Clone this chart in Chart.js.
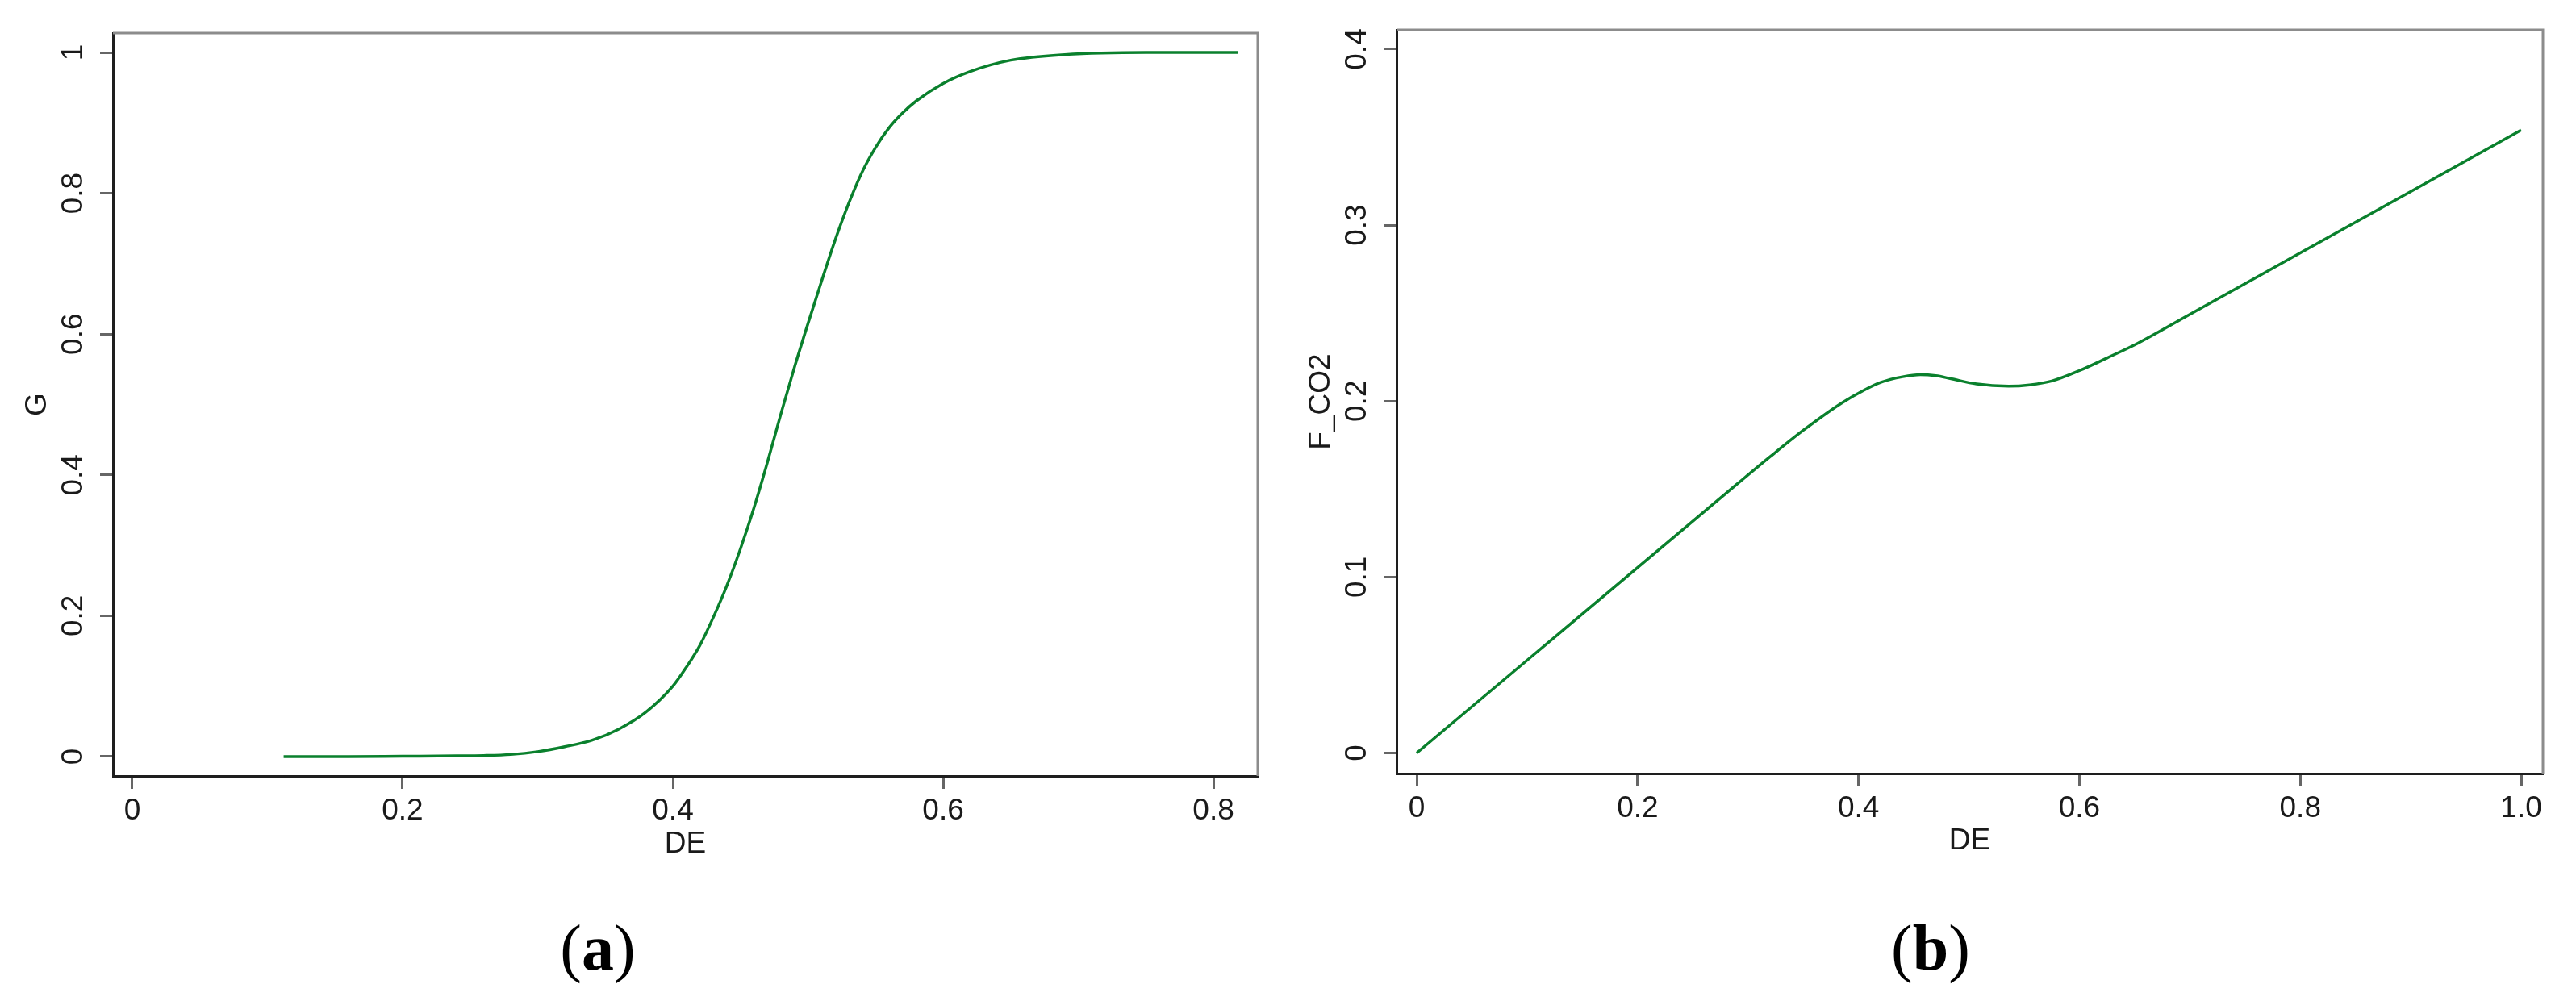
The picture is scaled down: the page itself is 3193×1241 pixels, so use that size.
<!DOCTYPE html>
<html lang="en">
<head>
    <meta charset="UTF-8">
    <title>G and F_CO2 vs DE</title>
    <script src="https://cdn.jsdelivr.net/npm/chart.js"></script>
    <style>
        body {
            margin: 0;
            background: #fff;
            width: 3193px;
            height: 1241px;
            position: relative;
            overflow: hidden;
        }
        .panel {
            position: absolute;
            top: 0;
        }
        .tag {
            position: absolute;
            top: 1135px;
            width: 300px;
            text-align: center;
            font-family: "Liberation Serif", "Times New Roman", serif;
            font-size: 80px;
            line-height: 1;
            color: #000;
        }
    </style>
</head>
<body>
    <canvas id="chartA" class="panel" style="left:0" width="1595" height="1100"></canvas>
    <canvas id="chartB" class="panel" style="left:1595px" width="1598" height="1100"></canvas>
    <div class="tag" style="left:591px">(<b>a</b>)</div>
    <div class="tag" style="left:2243px">(<b>b</b>)</div>

<script>
    // panel (a): G against DE
    const deA = [0.112, 0.16, 0.20, 0.24, 0.26, 0.28, 0.30, 0.32, 0.34, 0.36, 0.38, 0.40, 0.41, 0.42,
                 0.43, 0.44, 0.45, 0.46, 0.47, 0.48, 0.49, 0.50, 0.51, 0.52, 0.53, 0.54, 0.55,
                 0.56, 0.57, 0.58, 0.60, 0.62, 0.65, 0.69, 0.75, 0.818];
    const gA = [0, 0, 0.0005, 0.001, 0.0015, 0.003, 0.007, 0.014, 0.023, 0.039, 0.063, 0.100, 0.127, 0.158,
                0.198, 0.243, 0.295, 0.353, 0.418, 0.487, 0.553, 0.615, 0.675, 0.733, 0.785, 0.830, 0.865,
                0.893, 0.914, 0.931, 0.956, 0.973, 0.989, 0.997, 1.0, 1.0];
    const xTicksA = [0, 0.2, 0.4, 0.6, 0.8];
    const xLabelsA = ['0', '0.2', '0.4', '0.6', '0.8'];
    const yTicksA = [0, 0.2, 0.4, 0.6, 0.8, 1];
    const yLabelsA = ['0', '0.2', '0.4', '0.6', '0.8', '1'];

    // panel (b): F_CO2 against DE
    const deB = [0, 0.1, 0.2, 0.26, 0.29, 0.32, 0.35, 0.385, 0.405, 0.42, 0.44, 0.456, 0.47, 0.483,
                 0.507, 0.536, 0.555, 0.575, 0.60, 0.625, 0.653, 0.70, 0.80, 0.90, 1.0];
    const fB = [0, 0.0527, 0.1054, 0.137, 0.1528, 0.1684, 0.1834, 0.1990, 0.2062, 0.2106, 0.2138, 0.2150,
                0.2144, 0.2128, 0.2097, 0.2085, 0.2092, 0.2114, 0.2173, 0.2245, 0.2329, 0.2493,
                0.2842, 0.3191, 0.354];
    const xTicksB = [0, 0.2, 0.4, 0.6, 0.8, 1.0];
    const xLabelsB = ['0', '0.2', '0.4', '0.6', '0.8', '1.0'];
    const yTicksB = [0, 0.1, 0.2, 0.3, 0.4];
    const yLabelsB = ['0', '0.1', '0.2', '0.3', '0.4'];

    const lineColor = '#0a802d';
    const textColor = '#1a1a1a';
    const fontFamily = '"Liberation Sans", Arial, sans-serif';

    // top and right side of the box are drawn lighter, like the R plot
    const framePlugin = {
        id: 'frame',
        afterDraw(chart) {
            const { ctx, chartArea: a } = chart;
            ctx.save();
            ctx.strokeStyle = '#8c8c8c';
            ctx.lineWidth = 3;
            ctx.beginPath();
            ctx.moveTo(a.left, a.top);
            ctx.lineTo(a.right, a.top);
            ctx.lineTo(a.right, a.bottom);
            ctx.stroke();
            ctx.restore();
        }
    };

    function makePanel(id, xs, ys, opt) {
        const points = xs.map((x, i) => ({ x: x, y: ys[i] }));
        return new Chart(document.getElementById(id), {
            type: 'line',
            data: {
                datasets: [{
                    data: points,
                    borderColor: lineColor,
                    borderWidth: 3.5,
                    pointRadius: 0,
                    cubicInterpolationMode: 'monotone',
                    fill: false
                }]
            },
            options: {
                responsive: false,
                animation: false,
                layout: { padding: opt.padding },
                plugins: { legend: { display: false }, tooltip: { enabled: false } },
                scales: {
                    x: {
                        type: 'linear',
                        min: opt.xMin,
                        max: opt.xMax,
                        afterBuildTicks: s => { s.ticks = opt.xTicks.map(v => ({ value: v })); },
                        afterFit: s => { s.height = opt.xHeight; },
                        ticks: {
                            callback: (v, i) => opt.xLabels[i],
                            color: textColor,
                            font: { family: fontFamily, size: 37 },
                            padding: 6,
                            maxRotation: 0
                        },
                        grid: {
                            drawOnChartArea: false,
                            drawTicks: true,
                            tickLength: 16,
                            tickWidth: 3,
                            tickColor: '#666'
                        },
                        border: { display: true, color: '#1e1e1e', width: 3 },
                        title: {
                            display: true,
                            text: 'DE',
                            color: textColor,
                            font: { family: fontFamily, size: 37 },
                            padding: { top: 0, bottom: opt.xTitlePad }
                        }
                    },
                    y: {
                        type: 'linear',
                        min: opt.yMin,
                        max: opt.yMax,
                        afterBuildTicks: s => { s.ticks = opt.yTicks.map(v => ({ value: v })); },
                        afterFit: s => { s.width = opt.yWidth; },
                        ticks: {
                            callback: (v, i) => opt.yLabels[i],
                            color: textColor,
                            font: { family: fontFamily, size: 37 },
                            minRotation: 90,
                            maxRotation: 90,
                            crossAlign: 'center',
                            padding: 6
                        },
                        grid: {
                            drawOnChartArea: false,
                            drawTicks: true,
                            tickLength: 16,
                            tickWidth: 3,
                            tickColor: '#666'
                        },
                        border: { display: true, color: '#1e1e1e', width: 3 },
                        title: {
                            display: true,
                            text: opt.yTitle,
                            color: textColor,
                            font: { family: fontFamily, size: 37 },
                            padding: { top: opt.yTitlePad, bottom: 0 }
                        }
                    }
                }
            },
            plugins: [framePlugin]
        });
    }

    makePanel('chartA', deA, gA, {
        xMin: -0.0143, xMax: 0.8328, yMin: -0.0275, yMax: 1.0275,
        xTicks: xTicksA, xLabels: xLabelsA, yTicks: yTicksA, yLabels: yLabelsA,
        yTitle: 'G',
        padding: { left: 0, right: 36, top: 41, bottom: 0 },
        yWidth: 140, xHeight: 138, xTitlePad: 31, yTitlePad: 25
    });

    makePanel('chartB', deB, fB, {
        xMin: -0.0183, xMax: 1.0197, yMin: -0.0117, yMax: 0.411,
        xTicks: xTicksB, xLabels: xLabelsB, yTicks: yTicksB, yLabels: yLabelsB,
        yTitle: 'F_CO2',
        padding: { left: 0, right: 41, top: 37, bottom: 0 },
        yWidth: 136, xHeight: 141, xTitlePad: 35, yTitlePad: 21
    });
</script>
</body>
</html>
